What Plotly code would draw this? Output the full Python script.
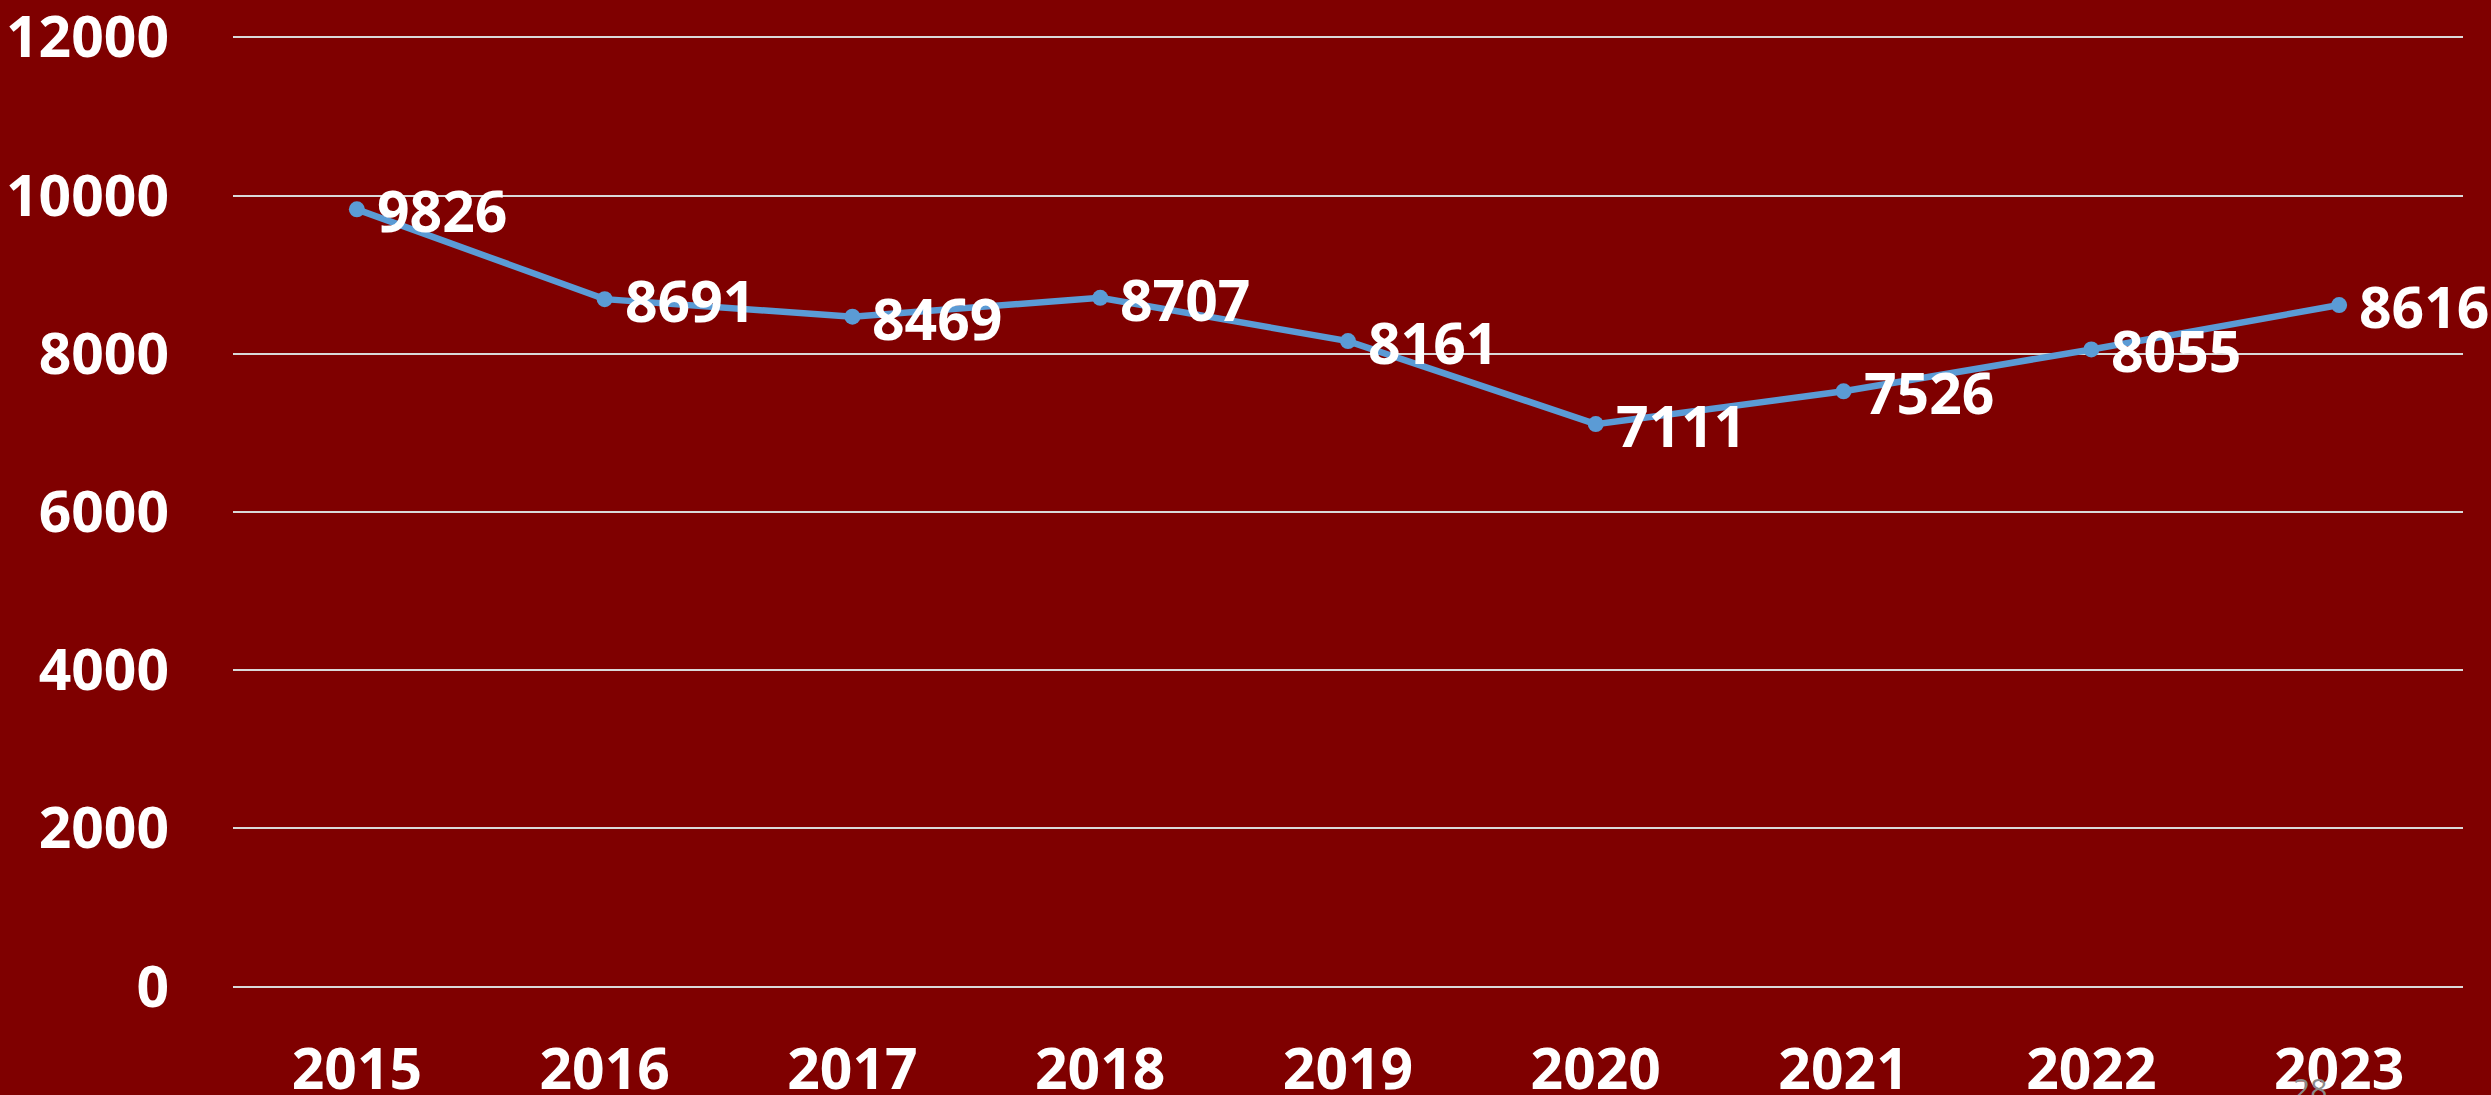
import plotly.graph_objects as go

years = ["2015", "2016", "2017", "2018", "2019", "2020", "2021", "2022", "2023"]
values = [9826, 8691, 8469, 8707, 8161, 7111, 7526, 8055, 8616]
y_ticks = [0, 2000, 4000, 6000, 8000, 10000, 12000]

W, H = 2491, 1095
BG = "#7F0000"
FONT = "Open Sans"
FSIZE = 57

# plot area: x 233..2463, y(12000)=37, y(0)=987 ; range padded slightly
PAD = 30
px_per_unit = (987 - 37) / 12000
T = round(37 - PAD * px_per_unit)
B = round(H - (987 + PAD * px_per_unit))
L, R = 233, 28

fig = go.Figure()
fig.add_trace(go.Scatter(
    x=years, y=values,
    mode="lines+markers",
    line=dict(color="#5B9BD5", width=6.5),
    marker=dict(color="#5B9BD5", size=16),
    cliponaxis=False,
    hoverinfo="skip",
))

for i, v in enumerate(values):
    fig.add_annotation(
        x=i, y=v, xref="x", yref="y", text=str(v), showarrow=False,
        xanchor="left", yanchor="middle", xshift=18, yshift=-1,
        font=dict(family=FONT, size=FSIZE, color="white", weight="bold"),
    )

fig.add_annotation(
    text="28", xref="paper", yref="paper", x=(2310 - L) / (W - L - R),
    y=-(1088 - (H - B)) / (H - T - B), xanchor="center", yanchor="middle",
    showarrow=False, font=dict(family=FONT, size=30, color="#8C8C8C"),
)

fig.update_layout(
    width=W, height=H,
    margin=dict(l=L, r=R, t=T, b=B, pad=0, autoexpand=False),
    paper_bgcolor=BG, plot_bgcolor=BG,
    showlegend=False,
    xaxis=dict(
        type="category", range=[-0.5, 8.5],
        showgrid=False, zeroline=False, showline=False, ticks="",
        tickfont=dict(family=FONT, size=FSIZE, color="white", weight="bold"),
        ticklabelstandoff=42, ticklabeloverflow="allow",
    ),
    yaxis=dict(
        range=[-PAD, 12000 + PAD], tickvals=y_ticks, ticktext=[str(v) for v in y_ticks],
        showgrid=True, gridcolor="#D9D9D9", gridwidth=2,
        zeroline=False, showline=False, ticks="",
        tickfont=dict(family=FONT, size=FSIZE, color="white", weight="bold"),
        ticklabelstandoff=63, ticklabeloverflow="allow",
    ),
)

fig.write_html(
    "out.html",
    config=dict(displayModeBar=False),
    post_script="document.body.style.margin='0';document.body.style.padding='0';"
                "document.body.style.background='" + BG + "';",
)
